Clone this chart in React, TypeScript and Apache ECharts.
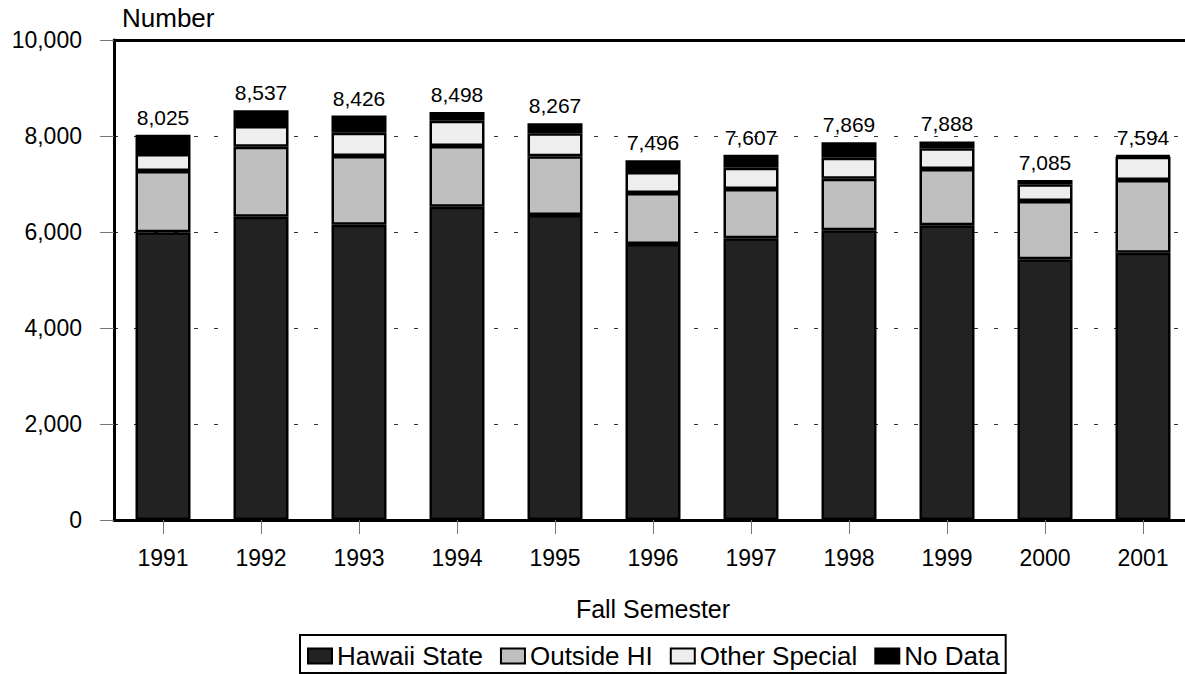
import React, { useEffect, useRef } from "react";
import * as echarts from "echarts";

const categories = ["1991", "1992", "1993", "1994", "1995", "1996", "1997", "1998", "1999", "2000", "2001"];
const hawaiiState = [5993, 6319, 6153, 6527, 6354, 5749, 5868, 6035, 6139, 5430, 5568];
const outsideHI = [1278, 1458, 1430, 1264, 1222, 1063, 1027, 1075, 1173, 1215, 1515];
const otherSpecial = [354, 431, 486, 528, 479, 438, 445, 438, 431, 348, 486];
const noData = [400, 329, 357, 179, 212, 246, 267, 321, 145, 92, 25];
const totals = [8025, 8537, 8426, 8498, 8267, 7496, 7607, 7869, 7888, 7085, 7594];
const yTicks = [0, 2000, 4000, 6000, 8000, 10000];

const FONT = "'Liberation Sans', Arial, Helvetica, sans-serif";

export default function App() {
  const ref = useRef<HTMLDivElement>(null);
  useEffect(() => {
    if (!ref.current) return;
    const chart = echarts.init(ref.current, undefined, { renderer: "svg" });
    const border = { borderColor: "#000", borderWidth: 2.5 };
    const mk = (name: string, data: number[], color: string, extra: any = {}) => ({
      name,
      type: "bar",
      stack: "total",
      data,
      barWidth: 55,
      itemStyle: { color, ...border },
      ...extra,
    });
    chart.setOption({
      animation: false,
      textStyle: { fontFamily: FONT },
      grid: { left: 114, right: -7, top: 40, bottom: 154, outerBoundsMode: "none", containLabel: false },
      xAxis: [
        {
          type: "category",
          data: categories,
          position: "bottom",
          name: "Fall Semester",
          nameLocation: "middle",
          nameGap: 76,
          nameTextStyle: { color: "#000", fontSize: 25, fontFamily: FONT },
          axisLine: { show: true, lineStyle: { color: "#000", width: 3 } },
          axisTick: { show: true, length: 14, alignWithLabel: true, lineStyle: { color: "#777", width: 1 } },
          axisLabel: { color: "#000", fontSize: 23, margin: 26, fontFamily: FONT },
          splitLine: { show: false },
        },
        {
          type: "category",
          data: categories,
          position: "top",
          axisLine: { show: true, lineStyle: { color: "#000", width: 3 } },
          axisTick: { show: false },
          axisLabel: { show: false },
        },
      ],
      yAxis: {
        type: "value",
        min: 0,
        max: 10000,
        interval: 2000,
        axisLine: { show: true, lineStyle: { color: "#000", width: 3 } },
        axisTick: { show: true, length: 14, lineStyle: { color: "#777", width: 1 } },
        axisLabel: {
          color: "#000",
          fontSize: 23,
          margin: 32,
          fontFamily: FONT,
          formatter: (v: number) => (yTicks.includes(v) ? v.toLocaleString("en-US") : ""),
        },
        splitLine: {
          show: true,
          lineStyle: { color: "#333", width: 1, type: [4, 16] },
        },
      },
      legend: {
        data: ["Hawaii State", "Outside HI", "Other Special", "No Data"],
        left: 300,
        top: 635,
        orient: "horizontal",
        icon: "rect",
        itemWidth: 24,
        itemHeight: 15,
        itemGap: 17,
        padding: [8, 6, 4, 7],
        borderColor: "#000",
        borderWidth: 2,
        itemStyle: { borderColor: "#000", borderWidth: 2 },
        textStyle: { color: "#000", fontSize: 26, fontFamily: FONT },
      },
      graphic: [
        {
          type: "text",
          left: 122,
          top: 5,
          style: { text: "Number", fontSize: 26, fill: "#000", fontFamily: FONT },
        },
      ],
      series: [
        mk("Hawaii State", hawaiiState, "#222222"),
        mk("Outside HI", outsideHI, "#bfbfbf"),
        mk("Other Special", otherSpecial, "#eeeeee"),
        mk("No Data", noData, "#000000", {
          label: {
            show: true,
            position: "top",
            distance: 7,
            color: "#000",
            fontSize: 21,
            fontFamily: FONT,
            formatter: (p: any) => totals[p.dataIndex].toLocaleString("en-US"),
          },
        }),
      ],
    });
    return () => chart.dispose();
  }, []);
  return <div ref={ref} style={{ width: 1185, height: 674, position: "absolute", left: 0, top: 0 }} />;
}
